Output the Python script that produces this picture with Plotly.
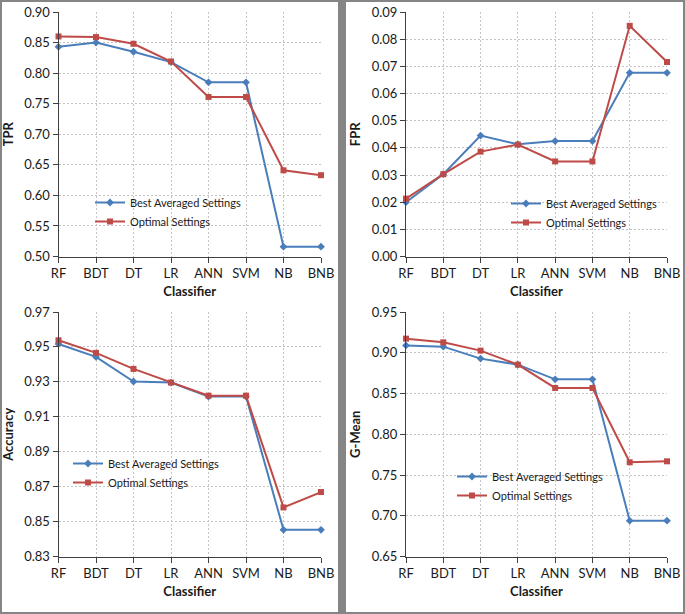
import plotly.graph_objects as go

classifiers = ["RF", "BDT", "DT", "LR", "ANN", "SVM", "NB", "BNB"]

tpr_best = [0.843, 0.850, 0.835, 0.818, 0.785, 0.785, 0.516, 0.516]
tpr_opt = [0.860, 0.859, 0.848, 0.819, 0.761, 0.761, 0.641, 0.633]

fpr_best = [0.0200, 0.0303, 0.0445, 0.0413, 0.0425, 0.0425, 0.0676, 0.0676]
fpr_opt = [0.0213, 0.0303, 0.0386, 0.0412, 0.0350, 0.0350, 0.0849, 0.0716]

acc_best = [0.9517, 0.9443, 0.9302, 0.9296, 0.9216, 0.9216, 0.8453, 0.8453]
acc_opt = [0.9538, 0.9466, 0.9374, 0.9296, 0.9221, 0.9221, 0.8581, 0.8669]

gm_best = [0.909, 0.9075, 0.8928, 0.8854, 0.8674, 0.8674, 0.694, 0.694]
gm_opt = [0.9173, 0.9128, 0.9026, 0.8854, 0.8568, 0.8568, 0.7656, 0.7668]

series_names = ["Best Averaged Settings", "Optimal Settings"]

W, H = 685, 614
BLUE = "#4a7ebb"
RED = "#be4b48"
FONT = "Lato"
GRID_DASH = "2px,2px"

fig = go.Figure()

panels = [
    (tpr_best, tpr_opt, "TPR", [0.5, 0.9], 0.05, ".2f", (58.5, 321), (12, 256.5), (130, 203)),
    (fpr_best, fpr_opt, "FPR", [0.0, 0.09], 0.01, ".2f", (406, 667), (12, 256.5), (546, 204)),
    (acc_best, acc_opt, "Accuracy", [0.83, 0.97], 0.02, ".2f", (58.5, 321), (312, 556.5), (108, 464)),
    (gm_best, gm_opt, "G-Mean", [0.65, 0.95], 0.05, ".2f", (406, 667), (312, 556.5), (492, 477)),
]

layout_updates = {}
for i, (best, opt, ytitle, yr, dt, fmt, xd, yd, lg) in enumerate(panels):
    n = "" if i == 0 else str(i + 1)
    xa, ya = "x" + n, "y" + n
    leg = "legend" + n
    fig.add_trace(go.Scatter(
        x=classifiers, y=best, name=series_names[0], mode="lines+markers",
        line=dict(color=BLUE, width=2), marker=dict(symbol="diamond", size=6, color=BLUE),
        xaxis=xa, yaxis=ya, legend=leg, cliponaxis=False))
    fig.add_trace(go.Scatter(
        x=classifiers, y=opt, name=series_names[1], mode="lines+markers",
        line=dict(color=RED, width=2), marker=dict(symbol="square", size=6, color=RED),
        xaxis=xa, yaxis=ya, legend=leg, cliponaxis=False))
    layout_updates["xaxis" + n] = dict(
        domain=[xd[0] / W, xd[1] / W], anchor=ya, type="category", automargin=False,
        range=[0, 7], showgrid=True, gridcolor="#c4c4c4", griddash=GRID_DASH, gridwidth=1,
        showline=True, linecolor="#404040", linewidth=1, ticks="outside", ticklen=5,
        tickcolor="#404040", tickfont=dict(family=FONT, size=13, color="#1a1a1a"),
        title=dict(text="<b>Classifier</b>", font=dict(family=FONT, size=13, color="#1a1a1a"), standoff=6),
        zeroline=False, fixedrange=True)
    layout_updates["yaxis" + n] = dict(
        domain=[1 - yd[1] / H, 1 - yd[0] / H], anchor=xa, range=yr, dtick=dt, tick0=yr[0],
        automargin=False,
        tickformat=fmt, showgrid=True, gridcolor="#c4c4c4", griddash=GRID_DASH, gridwidth=1,
        showline=True, linecolor="#404040", linewidth=1, ticks="outside", ticklen=5,
        tickcolor="#404040", tickfont=dict(family=FONT, size=13, color="#1a1a1a"),
        title=dict(text="<b>" + ytitle + "</b>", font=dict(family=FONT, size=13, color="#1a1a1a"), standoff=8),
        zeroline=False, fixedrange=True)
    layout_updates[leg] = dict(
        x=(lg[0] - 40) / W, y=1 - (lg[1] - 15) / H, xanchor="left", yanchor="top",
        bgcolor="rgba(0,0,0,0)", font=dict(family=FONT, size=11, color="#1a1a1a"),
        itemwidth=30, tracegroupgap=0)

fig.update_layout(**layout_updates)

shapes = [
    dict(type="rect", xref="paper", yref="paper", x0=2 / W, x1=338 / W, y0=1 - 612 / H, y1=1 - 2 / H,
         fillcolor="white", line=dict(width=0), layer="below"),
    dict(type="rect", xref="paper", yref="paper", x0=346 / W, x1=683 / W, y0=1 - 612 / H, y1=1 - 2 / H,
         fillcolor="white", line=dict(width=0), layer="below"),
]

fig.update_layout(
    width=W, height=H, margin=dict(l=0, r=0, t=0, b=0, autoexpand=False),
    paper_bgcolor="#858585", plot_bgcolor="rgba(0,0,0,0)",
    shapes=shapes, font=dict(family=FONT, color="#1a1a1a"), showlegend=True,
)

fig.write_html("out.html", config={"displayModeBar": False},
               post_script="document.body.style.margin='0';document.body.style.overflow='hidden';")
